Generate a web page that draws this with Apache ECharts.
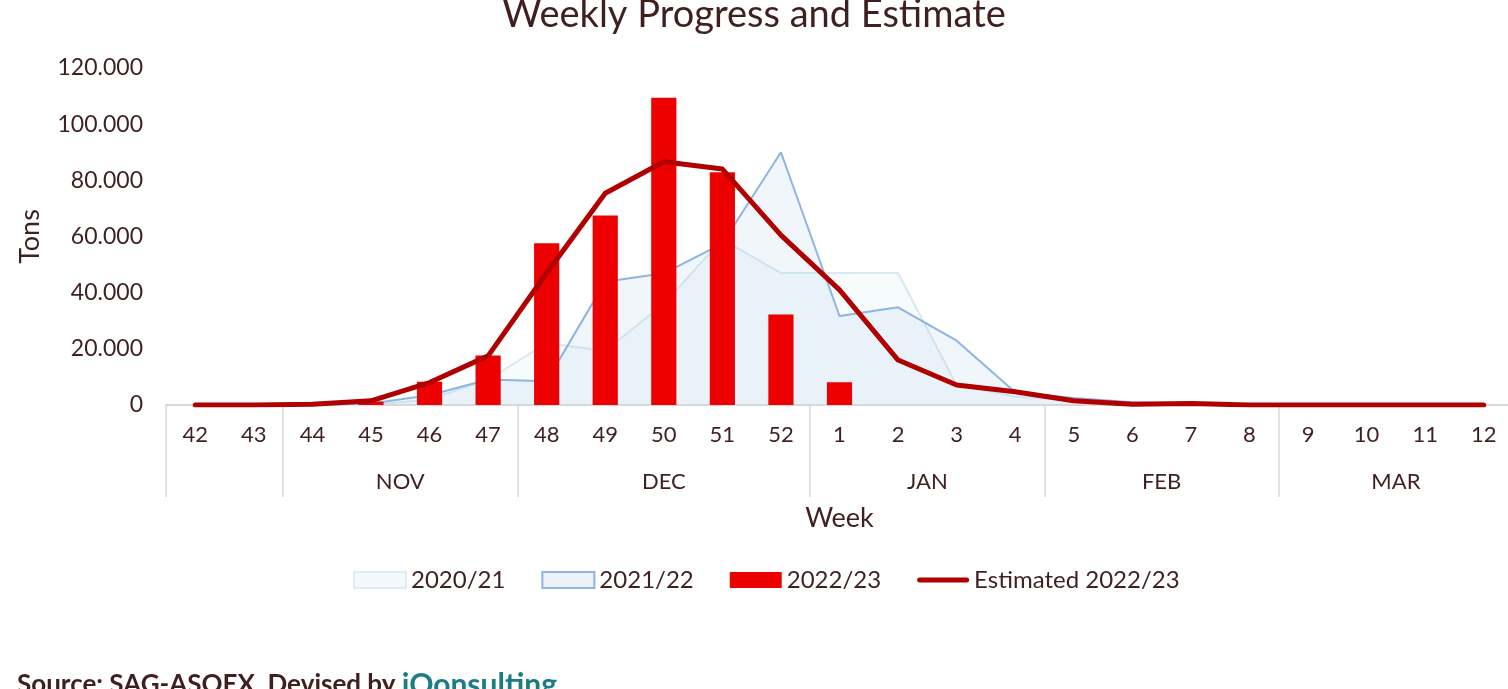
<!DOCTYPE html>
<html>
<head>
<meta charset="utf-8">
<script src="https://cdn.jsdelivr.net/npm/echarts@6/dist/echarts.min.js"></script>
<style>
html,body{margin:0;padding:0;background:#fff;}
#chart{width:1508px;height:689px;}
</style>
</head>
<body>
<div id="chart"></div>
<script>
const weeks = ['42','43','44','45','46','47','48','49','50','51','52','1','2','3','4','5','6','7','8','9','10','11','12'];
// month groups: [name, start index, end index (exclusive)]
const monthGroups = [['', 0, 2], ['NOV', 2, 6], ['DEC', 6, 11], ['JAN', 11, 15], ['FEB', 15, 19], ['MAR', 19, 23]];
const s2020 = [0,0,0,0,2000,9000,22000,19300,36000,59000,47000,47000,47000,7000,3000,1500,500,0,0,0,0,0,0];
const s2021 = [0,0,0,500,3500,9100,8500,43900,46900,57500,90000,31700,34800,22900,4500,2500,1000,500,0,0,0,0,0];
const s2022 = [0,0,0,1200,8300,17600,57600,67500,109400,82900,32200,8100,null,null,null,null,null,null,null,null,null,null,null];
const sEst  = [0,0,300,1500,8000,17500,47000,75400,86600,84000,60500,41000,16000,7100,4700,1500,300,500,0,0,0,0,0];
const yTicks = [0,20000,40000,60000,80000,100000,120000];

const textColor = '#3F1F1F';
const font = 'Lato, "Open Sans", sans-serif';

const boundaryIdx = monthGroups.map(g => g[1]);
const monthCenters = {};
monthGroups.forEach(g => { if (g[0]) monthCenters[(g[1] + g[2]) / 2] = g[0]; });

function fmt(v){
  if (v === 0) return '0';
  return String(v).replace(/\B(?=(\d{3})+(?!\d))/g, '.');
}

const chart = echarts.init(document.getElementById('chart'));
chart.setOption({
  animation: false,
  textStyle: { fontFamily: font, color: textColor },
  title: [{
    text: 'Weekly Progress and Estimate',
    left: 'center',
    top: -9,
    textStyle: { fontFamily: font, fontSize: 38, fontWeight: 'normal', color: textColor }
  }, {
    text: 'Source: SAG-ASOEX. Devised by {b|iQonsulting}',
    left: 12,
    top: 665,
    textStyle: {
      fontFamily: font, fontSize: 26, fontWeight: 'bold', color: textColor,
      rich: { b: { fontFamily: font, fontSize: 30, fontWeight: 'bold', color: '#1B7C86' } }
    }
  }],
  legend: {
    top: 563,
    left: 348,
    itemWidth: 52,
    itemHeight: 16,
    itemGap: 36,
    textStyle: { fontFamily: font, fontSize: 24, color: textColor },
    data: [
      { name: '2020/21', icon: 'rect', itemStyle: { color: '#F2F8FB', borderColor: '#DAEEF3', borderWidth: 2 } },
      { name: '2021/22', icon: 'rect', itemStyle: { color: '#EDF2FA', borderColor: '#8DB4E2', borderWidth: 2 } },
      { name: '2022/23', icon: 'rect' },
      { name: 'Estimated 2022/23', icon: 'path://M2.5,0 H49.5 A2.5,2.5 0 0 1 49.5,5 H2.5 A2.5,2.5 0 0 1 2.5,0 Z',
        itemStyle: { color: '#B00000', borderWidth: 0 } }
    ]
  },
  grid: { left: 166, width: 1347, top: 68, bottom: 284, containLabel: false, outerBoundsMode: 'none' },
  xAxis: [{
    type: 'category',
    data: weeks,
    boundaryGap: true,
    name: 'Week',
    nameLocation: 'middle',
    nameGap: 100,
    nameTextStyle: { fontFamily: font, fontSize: 27, color: textColor },
    axisLine: { show: true, lineStyle: { color: '#D9D9D9', width: 2 } },
    axisTick: {
      show: true,
      length: 92,
      interval: (i) => boundaryIdx.indexOf(i) >= 0,
      lineStyle: { color: '#D9D9D9', width: 1.5 }
    },
    axisLabel: { fontFamily: font, fontSize: 22, color: textColor, margin: 19, interval: 0 },
    splitLine: { show: false }
  }, {
    type: 'value',
    position: 'bottom',
    min: 0,
    max: weeks.length,
    interval: 0.5,
    offset: 66,
    axisLine: { show: false },
    axisTick: { show: false },
    splitLine: { show: false },
    axisLabel: {
      fontFamily: font, fontSize: 22, color: textColor, margin: 0,
      showMinLabel: true, showMaxLabel: true,
      formatter: (v) => monthCenters[v] || ''
    }
  }],
  yAxis: {
    type: 'value',
    min: yTicks[0],
    max: yTicks[yTicks.length - 1],
    interval: yTicks[1] - yTicks[0],
    name: 'Tons',
    nameLocation: 'middle',
    nameGap: 122,
    nameRotate: 90,
    nameTextStyle: { fontFamily: font, fontSize: 27, color: textColor },
    axisLine: { show: false },
    axisTick: { show: false },
    splitLine: { show: false },
    axisLabel: { fontFamily: font, fontSize: 23, color: textColor, margin: 23, formatter: fmt }
  },
  series: [{
    name: '2020/21',
    type: 'line',
    data: s2020,
    symbol: 'none',
    lineStyle: { color: '#D6EAF1', width: 2 },
    itemStyle: { color: '#DAEEF3' },
    areaStyle: { color: 'rgba(218,238,243,0.35)' },
    z: 1
  }, {
    name: '2021/22',
    type: 'line',
    data: s2021,
    symbol: 'none',
    lineStyle: { color: '#8DB4E2', width: 2 },
    itemStyle: { color: '#8DB4E2' },
    areaStyle: { color: 'rgba(141,180,226,0.18)' },
    z: 2
  }, {
    name: '2022/23',
    type: 'bar',
    data: s2022,
    barWidth: '43%',
    itemStyle: { color: '#EC0000' },
    z: 3
  }, {
    name: 'Estimated 2022/23',
    type: 'line',
    data: sEst,
    symbol: 'none',
    lineStyle: { color: '#B00000', width: 5, cap: 'round', join: 'round' },
    itemStyle: { color: '#B00000' },
    z: 4
  }]
});
</script>
</body>
</html>
